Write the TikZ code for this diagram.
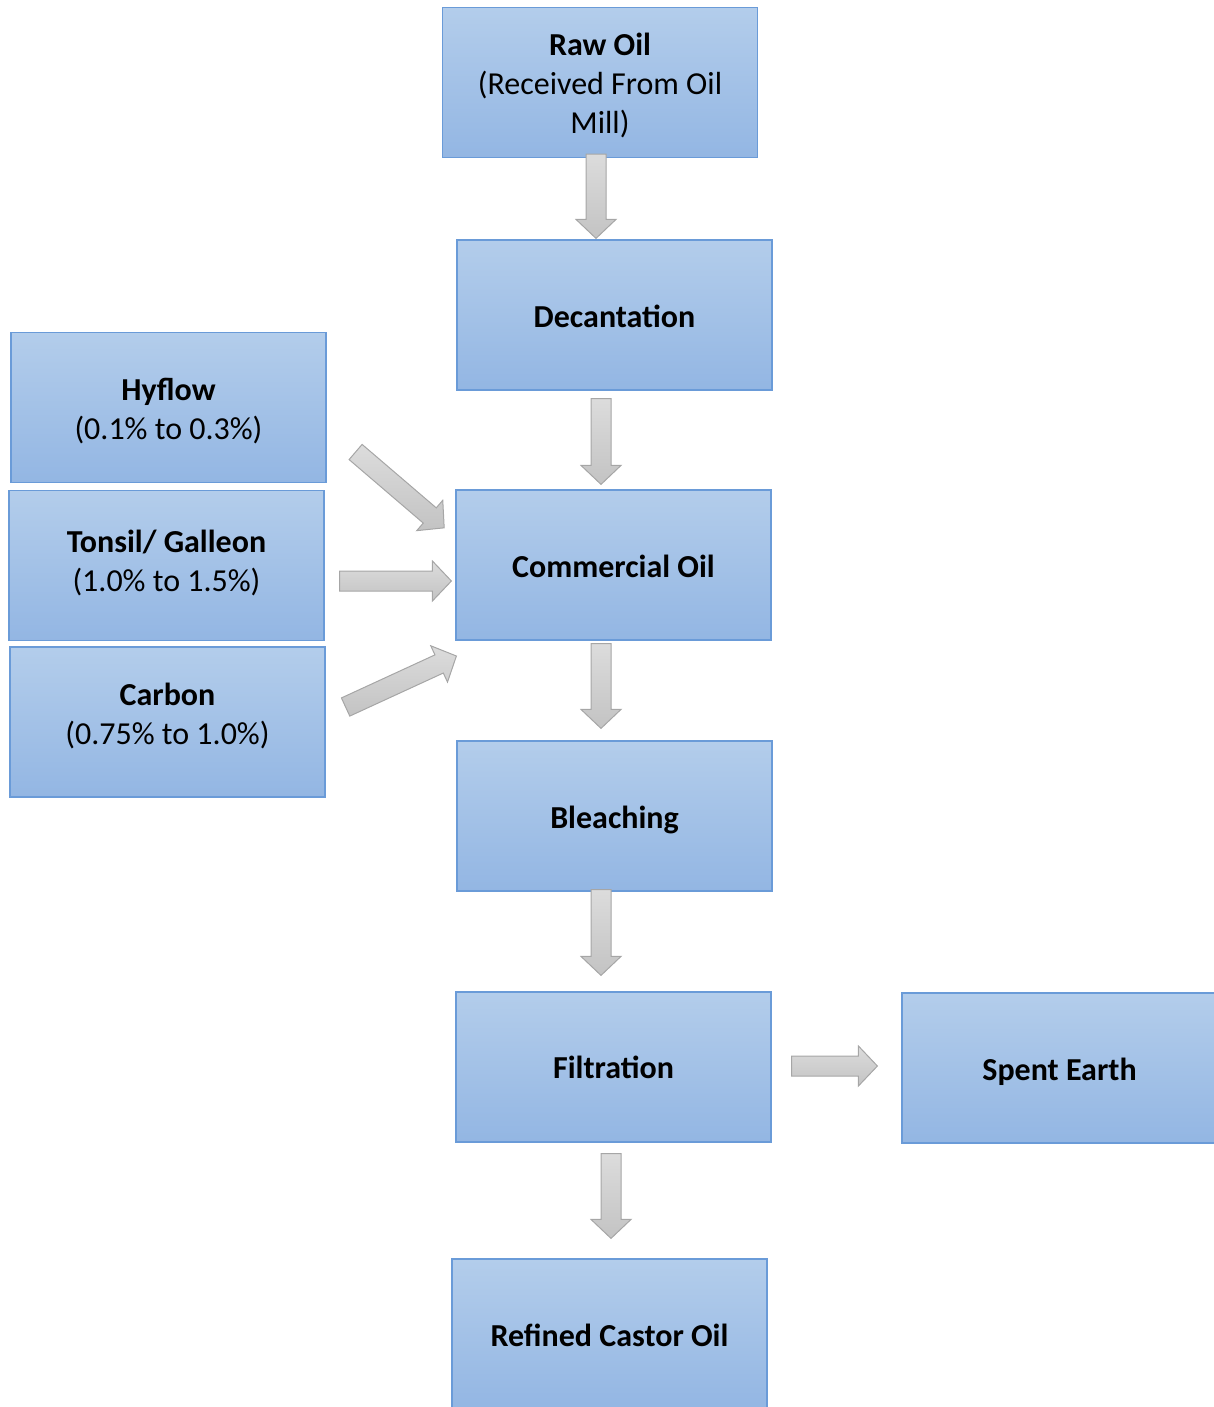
\documentclass[tikz,border=0pt]{standalone}
\usepackage{fontspec}
\setmainfont{Carlito}
\usetikzlibrary{calc}
\definecolor{boxtop}{HTML}{B3CDEB}
\definecolor{boxbot}{HTML}{93B6E3}
\definecolor{boxline}{HTML}{6A9BD8}
\definecolor{arrtop}{HTML}{DCDCDC}
\definecolor{arrbot}{HTML}{C3C3C3}
\definecolor{arrline}{HTML}{A6A6A6}
\tikzset{
 stepbox/.style={draw=boxline, line width=1.2pt, top color=boxtop, bottom color=boxbot,
   minimum width=315pt, minimum height=150pt, inner sep=0pt},
 boxtext/.style={align=center, inner sep=0pt, text=black,
   font=\fontsize{32}{39}\selectfont},
 barrowstyle/.style={draw=arrline, line width=1pt, top color=arrtop, bottom color=arrbot},
 barrow/.pic={\path[barrowstyle] (0pt,-10pt) -- ({(#1-19)*1pt},-10pt) -- ({(#1-19)*1pt},-20pt)
   -- ({#1*1pt},0pt) -- ({(#1-19)*1pt},20pt) -- ({(#1-19)*1pt},10pt) -- (0pt,10pt) -- cycle;}
}
\newcommand\blockarrow[2]{\path let \p1=(#1), \p2=(#2),
  \n1={atan2(\y2-\y1,\x2-\x1)}, \n2={veclen(\x2-\x1,\y2-\y1)} in
  (\p1) pic[rotate=\n1] {barrow=\n2};}
\begin{document}
\begin{tikzpicture}[x=1pt,y=-1pt]
\clip (0,0) rectangle (1214,1407);
\node[stepbox, label={[boxtext, yshift=-3pt]center:{\textbf{Raw Oil}\\(Received From Oil\\Mill)}}] (raw) at (600,82.5) {};
\node[stepbox, label={[boxtext, yshift=-1pt]center:{\textbf{Decantation}}}] (dec) at (614.5,315) {};
\node[stepbox, label={[boxtext, yshift=-4pt]center:{\textbf{Hyflow}\\(0.1\% to 0.3\%)}}] (hyf) at (168.5,407.5) {};
\node[stepbox, label={[boxtext, yshift=3pt]center:{\textbf{Tonsil/ Galleon}\\(1.0\% to 1.5\%)}}] (ton) at (166.5,565.5) {};
\node[stepbox, label={[boxtext, yshift=6pt]center:{\textbf{Carbon}\\(0.75\% to 1.0\%)}}] (car) at (167.5,722) {};
\node[stepbox, label={[boxtext, yshift=-1pt]center:{\textbf{Commercial Oil}}}] (com) at (613.5,565) {};
\node[stepbox, label={[boxtext, yshift=-4pt]center:{\textbf{Bleaching}}}] (ble) at (614.5,816) {};
\node[stepbox, label={[boxtext]center:{\textbf{Filtration}}}] (fil) at (613.5,1067) {};
\node[stepbox, label={[boxtext, yshift=-4pt]center:{\textbf{Spent Earth}}}] (spe) at (1059.5,1068) {};
\node[stepbox, label={[boxtext, yshift=-1pt]center:{\textbf{Refined Castor Oil}}}] (ref) at (609.5,1334) {};
\blockarrow{$(raw.south)+(-4,-4)$}{$(dec.north)+(-18.5,-1)$}
\blockarrow{$(dec.south)+(-13.5,8)$}{$(com.north)+(-12.5,-5)$}
\blockarrow{$(com.south)+(-12.5,3)$}{$(ble.north)+(-13.5,-12)$}
\blockarrow{$(ble.south)+(-13.5,-2)$}{$(fil.north)+(-12.5,-16)$}
\blockarrow{$(fil.south)+(-2.5,11)$}{$(ref.north)+(1.5,-20)$}
\blockarrow{$(fil.east)+(20,-1)$}{$(spe.west)+(-24,-2)$}
\blockarrow{$(ton.east)+(15,15.5)$}{$(com.west)+(-4,16)$}
\blockarrow{$(hyf.east)+(29,44.5)$}{$(com.west)+(-11,-37)$}
\blockarrow{$(car.east)+(20,-15)$}{$(com.west)+(1,91)$}
\end{tikzpicture}
\end{document}
